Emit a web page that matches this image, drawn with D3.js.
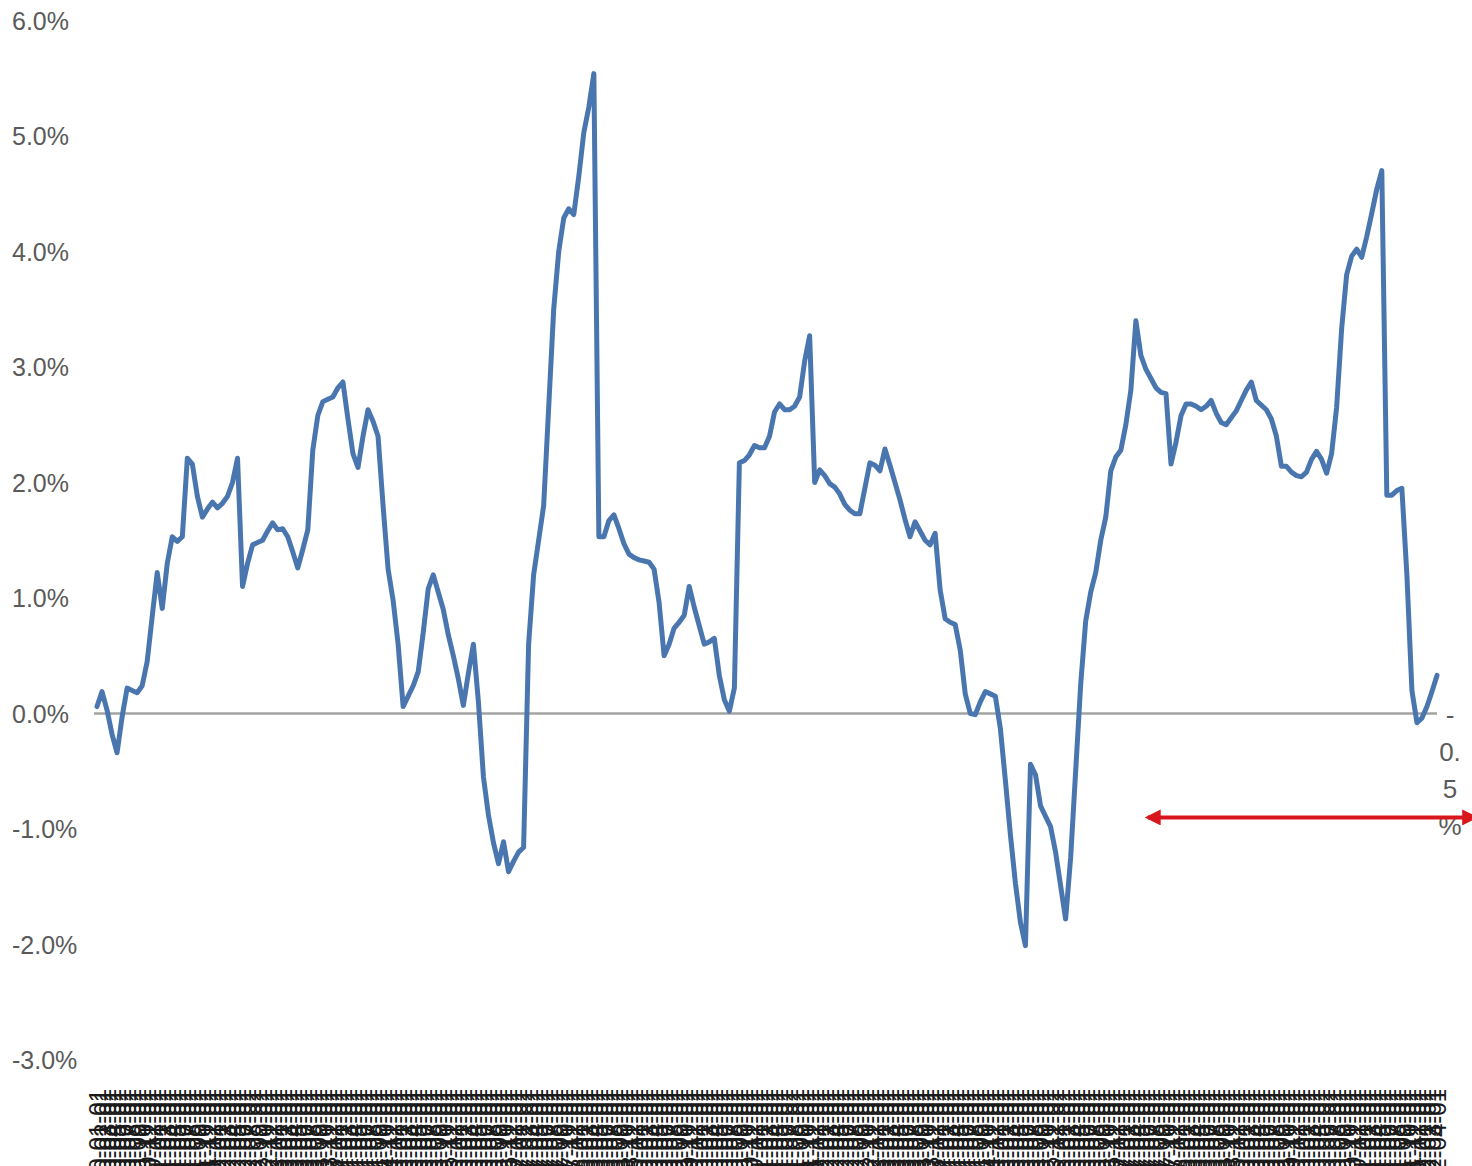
<!DOCTYPE html>
<html><head><meta charset="utf-8">
<script src="https://cdn.jsdelivr.net/npm/d3@7"></script>
<style>body{margin:0;background:#fff} svg{display:block}</style>
</head><body>
<svg id="chart" width="1472" height="1166"></svg>
<script>
// Monthly series values (percent)
const values = [
 0.06, 0.19, 0.03,-0.18,-0.34,-0.03, 0.22, 0.20, 0.18, 0.24,
 0.45, 0.84, 1.22, 0.91, 1.30, 1.53, 1.49, 1.53, 2.21, 2.16,
 1.88, 1.70, 1.77, 1.83, 1.78, 1.82, 1.88, 2.00, 2.21, 1.10,
 1.30, 1.46, 1.48, 1.50, 1.58, 1.65, 1.59, 1.60, 1.53, 1.40,
 1.26, 1.42, 1.59, 2.28, 2.58, 2.70, 2.72, 2.74, 2.82, 2.87,
 2.55, 2.25, 2.13, 2.40, 2.63, 2.53, 2.40, 1.80, 1.25, 0.98,
 0.60, 0.06, 0.15, 0.24, 0.36, 0.70, 1.08, 1.20, 1.05, 0.90,
 0.68, 0.50, 0.30, 0.07, 0.35, 0.60, 0.10,-0.55,-0.88,-1.12,
-1.30,-1.11,-1.37,-1.28,-1.20,-1.16, 0.60, 1.20, 1.50, 1.80,
 2.65, 3.50, 4.00, 4.29, 4.37, 4.32, 4.65, 5.03, 5.25, 5.54,
 1.53, 1.53, 1.67, 1.72, 1.60, 1.47, 1.38, 1.35, 1.33, 1.32,
 1.31, 1.25, 0.96, 0.50, 0.60, 0.74, 0.79, 0.85, 1.10, 0.92,
 0.76, 0.60, 0.62, 0.65, 0.33, 0.12, 0.02, 0.22, 2.17, 2.19,
 2.24, 2.32, 2.30, 2.30, 2.40, 2.61, 2.68, 2.63, 2.63, 2.66,
 2.74, 3.05, 3.27, 2.00, 2.11, 2.06, 1.99, 1.96, 1.90, 1.81,
 1.76, 1.73, 1.73, 1.95, 2.17, 2.15, 2.10, 2.29, 2.15, 2.00,
 1.85, 1.68, 1.53, 1.66, 1.58, 1.50, 1.46, 1.56, 1.07, 0.82,
 0.79, 0.77, 0.55, 0.17, 0.00,-0.01, 0.10, 0.19, 0.17, 0.15,
-0.13,-0.58,-1.05,-1.47,-1.81,-2.01,-0.44,-0.53,-0.80,-0.89,
-0.98,-1.20,-1.49,-1.78,-1.25,-0.50, 0.25, 0.80, 1.05, 1.22,
 1.50, 1.70, 2.10, 2.22, 2.28, 2.50, 2.80, 3.40, 3.10, 2.98,
 2.90, 2.82, 2.78, 2.77, 2.16, 2.35, 2.58, 2.68, 2.68, 2.66,
 2.63, 2.66, 2.71, 2.60, 2.52, 2.50, 2.56, 2.62, 2.71, 2.80,
 2.87, 2.71, 2.67, 2.63, 2.55, 2.40, 2.14, 2.14, 2.09, 2.06,
 2.05, 2.09, 2.20, 2.27, 2.20, 2.08, 2.25, 2.65, 3.33, 3.80,
 3.96, 4.02, 3.95, 4.13, 4.33, 4.54, 4.70, 1.89, 1.89, 1.93,
 1.95, 1.20, 0.20,-0.08,-0.04, 0.06, 0.19, 0.33
];

// Category labels: one per month
const startMonth = new Date(1990, 0, 1);
const categories = d3.timeMonth
  .range(startMonth, d3.timeMonth.offset(startMonth, values.length))
  .map(d3.timeFormat("%Y-%m-%d"));

// Y axis ticks (percent)
const yTicks = [-3, -2, -1, 0, 1, 2, 3, 4, 5, 6];

// Annotation: text and double arrow
const noteLines = ["-", "0.", "5", "%"];
const arrowLevel = -0.9;       // percent
const arrowFromIndex = 209;    // category index where arrow starts

const svg = d3.select("#chart");
const W = 1472, H = 1166;

const x = d3.scalePoint().domain(categories).range([97, 1437]);
const y = d3.scaleLinear().domain([-3, 6]).range([1060, 20.5]);

const font = "'Liberation Sans', Arial, sans-serif";
const fmtPct = d => (d < 0 ? "-" : "") + Math.abs(d).toFixed(1) + "%";

// Y tick labels
svg.append("g").selectAll("text").data(yTicks).join("text")
  .attr("x", 12)
  .attr("y", d => y(d))
  .attr("dy", "0.36em")
  .attr("font-family", font)
  .attr("font-size", 25)
  .attr("fill", "#5a5a5a")
  .text(fmtPct);

// Zero line (category axis)
svg.append("line")
  .attr("x1", x(categories[0]) - 3)
  .attr("x2", x(categories[categories.length - 1]))
  .attr("y1", y(0)).attr("y2", y(0))
  .attr("stroke", "#a3a3a3")
  .attr("stroke-width", 2.5);

// X axis labels at bottom
const xAxis = d3.axisBottom(x).tickSize(0).tickPadding(0);
const gx = svg.append("g").attr("transform", `translate(0,1089)`).call(xAxis);
gx.select(".domain").remove();
gx.selectAll("text")
  .attr("font-family", font)
  .attr("font-size", 24)
  .attr("fill", "#1a1a1a")
  .attr("text-anchor", "end")
  .attr("transform", "rotate(-90)")
  .attr("x", 0).attr("y", 0).attr("dy", "0.35em");

// Series line
const line = d3.line()
  .x((d, i) => x(categories[i]))
  .y(d => y(d));
svg.append("path")
  .datum(values)
  .attr("d", line)
  .attr("fill", "none")
  .attr("stroke", "#4a76b0")
  .attr("stroke-width", 5)
  .attr("stroke-linejoin", "round")
  .attr("stroke-linecap", "round");

// Annotation text
const note = svg.append("text")
  .attr("font-family", font)
  .attr("font-size", 26)
  .attr("fill", "#5a5a5a")
  .attr("text-anchor", "middle");
noteLines.forEach((t, i) => {
  note.append("tspan")
    .attr("x", x(categories[categories.length - 1]) + 13)
    .attr("y", y(0) + 10 + i * 37)
    .text(t);
});

// Double-headed red arrow
const defs = svg.append("defs");
defs.append("marker")
  .attr("id", "arr")
  .attr("viewBox", "0 0 10 10")
  .attr("refX", 8).attr("refY", 5)
  .attr("markerWidth", 4.2).attr("markerHeight", 4)
  .attr("markerUnits", "strokeWidth")
  .attr("orient", "auto-start-reverse")
  .append("path")
  .attr("d", "M0,0 L10,5 L0,10 Z")
  .attr("fill", "#d9161c");
svg.append("line")
  .attr("x1", x(categories[arrowFromIndex]) + 2)
  .attr("x2", W + 3)
  .attr("y1", y(arrowLevel)).attr("y2", y(arrowLevel))
  .attr("stroke", "#d9161c")
  .attr("stroke-width", 4)
  .attr("marker-start", "url(#arr)")
  .attr("marker-end", "url(#arr)");
</script>
</body></html>
